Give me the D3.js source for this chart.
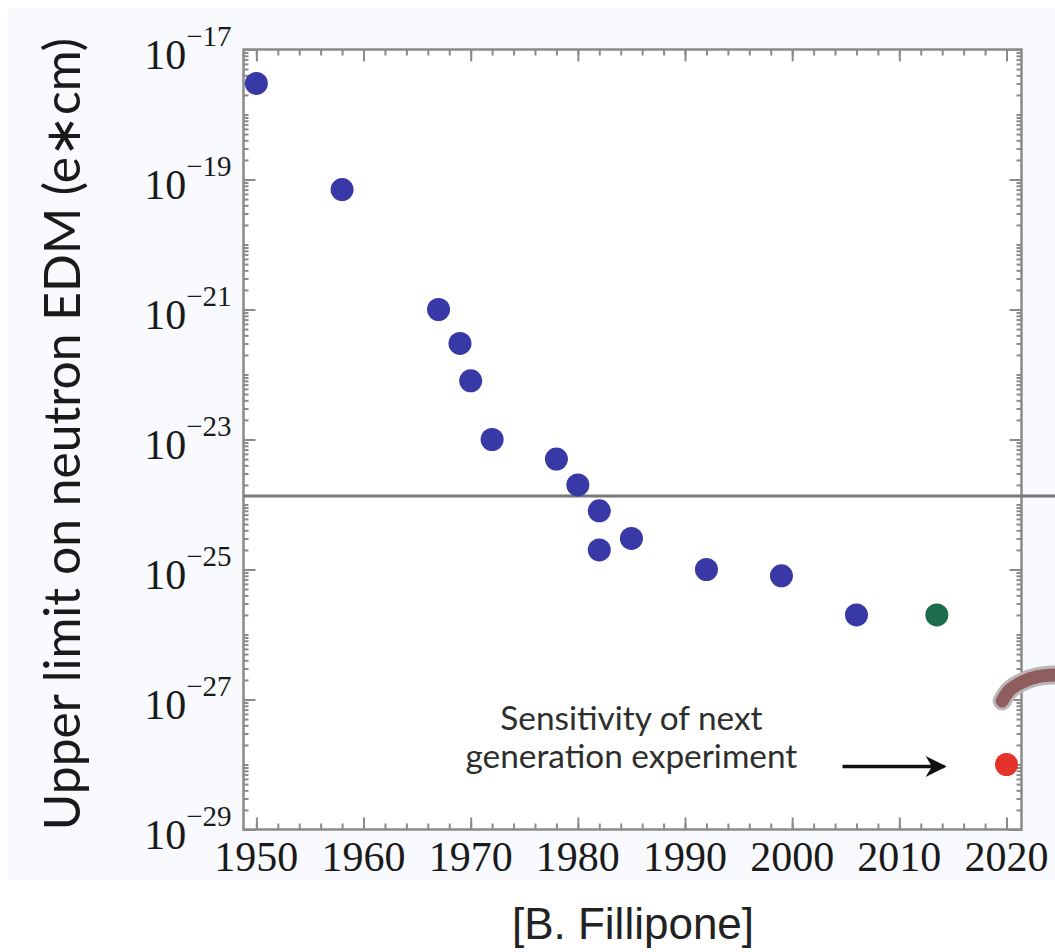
<!DOCTYPE html>
<html>
<head>
<meta charset="utf-8">
<script src="https://cdn.jsdelivr.net/npm/d3@7"></script>
<style>
  body { margin: 0; background: #fff; }
</style>
</head>
<body>
<svg id="chart"></svg>
<script>
const years = [1950, 1958, 1967, 1969, 1970, 1972, 1978, 1980, 1982, 1982, 1985, 1992, 1999, 2006]
const limits = [3e-18, 7e-20, 1e-21, 3e-22, 8e-23, 1e-23, 5e-24, 2e-24, 8e-25, 2e-25, 3e-25, 1e-25, 8e-26, 2e-26]

// The green point and the projected (red) sensitivity.
const greenYears = [2013.5]
const greenLimits = [2e-26]
const nextYears = [2020]
const nextLimits = [1e-28]

// Horizontal reference line.
const refLimit = 1.35e-24

// Brown arc that pokes in from the right edge.
const arcYears = [2019.6, 2020.3, 2021.45, 2022.9, 2024.8]
const arcLimits = [9.5e-28, 1.4e-27, 1.85e-27, 2.25e-27, 2.4e-27]

// Tick labels.
const xTickYears = [1950, 1960, 1970, 1980, 1990, 2000, 2010, 2020]
const yTickExponents = [-17, -19, -21, -23, -25, -27, -29]

const WIDTH = 1055
const HEIGHT = 952
const LEFT = 243.5
const RIGHT = 1021.5
const TOP = 49.5
const BOTTOM = 829.5

const svg = d3.select("#chart").attr("width", WIDTH).attr("height", HEIGHT)

const x = d3.scaleLinear().domain([1948.8, 2021.4]).range([LEFT, RIGHT])
const y = d3.scaleLog().domain([1e-29, 1e-17]).range([BOTTOM, TOP])

// faint slide panel behind everything
svg.append("rect")
  .attr("x", 8).attr("y", 8)
  .attr("width", WIDTH).attr("height", 872)
  .attr("fill", "#f9fafd")

svg.append("rect")
  .attr("x", LEFT).attr("y", TOP)
  .attr("width", RIGHT - LEFT).attr("height", BOTTOM - TOP)
  .attr("fill", "#fff")

// tick positions
const minorYears = d3.range(1950, 2021, 2)
const minorVals = []
for (let e = -29; e < -17; e++) {
  for (let k = 1; k <= 9; k++) minorVals.push(k * Math.pow(10, e))
}
minorVals.push(1e-17)
const majorVals = yTickExponents.map((e) => Math.pow(10, e))

function styleAxis(g) {
  g.select(".domain").remove()
  g.selectAll("line").attr("stroke", "#8a8a8a").attr("stroke-width", 2)
  g.selectAll("text").remove()
}

svg.append("g").attr("transform", `translate(0,${BOTTOM})`)
  .call(d3.axisBottom(x).tickValues(minorYears).tickSize(-6)).call(styleAxis)
svg.append("g").attr("transform", `translate(0,${BOTTOM})`)
  .call(d3.axisBottom(x).tickValues(xTickYears).tickSize(-12)).call(styleAxis)
svg.append("g").attr("transform", `translate(0,${TOP})`)
  .call(d3.axisTop(x).tickValues(minorYears).tickSize(-6)).call(styleAxis)
svg.append("g").attr("transform", `translate(0,${TOP})`)
  .call(d3.axisTop(x).tickValues(xTickYears).tickSize(-12)).call(styleAxis)

svg.append("g").attr("transform", `translate(${LEFT},0)`)
  .call(d3.axisLeft(y).tickValues(minorVals).tickSize(-5)).call(styleAxis)
svg.append("g").attr("transform", `translate(${LEFT},0)`)
  .call(d3.axisLeft(y).tickValues(majorVals).tickSize(-12)).call(styleAxis)
svg.append("g").attr("transform", `translate(${RIGHT},0)`)
  .call(d3.axisRight(y).tickValues(minorVals).tickSize(-5)).call(styleAxis)
svg.append("g").attr("transform", `translate(${RIGHT},0)`)
  .call(d3.axisRight(y).tickValues(majorVals).tickSize(-12)).call(styleAxis)

// frame
svg.append("rect")
  .attr("x", LEFT).attr("y", TOP)
  .attr("width", RIGHT - LEFT).attr("height", BOTTOM - TOP)
  .attr("fill", "none")
  .attr("stroke", "#8a8a8a")
  .attr("stroke-width", 2.5)

// x tick labels
svg.append("g").selectAll("text")
  .data(xTickYears)
  .join("text")
  .attr("x", (d) => x(d))
  .attr("y", BOTTOM + 41.5)
  .attr("text-anchor", "middle")
  .attr("font-family", "Liberation Serif, Times New Roman, serif")
  .attr("font-size", 42)
  .attr("fill", "#1a1a1a")
  .text((d) => d)

// y tick labels with superscript exponent
const yLabels = svg.append("g").selectAll("text")
  .data(yTickExponents)
  .join("text")
  .attr("x", LEFT - 12)
  .attr("y", (d) => y(Math.pow(10, d)) + 19.5)
  .attr("text-anchor", "end")
  .attr("font-family", "Liberation Serif, Times New Roman, serif")
  .attr("fill", "#1a1a1a")
yLabels.append("tspan").attr("font-size", 42).text("10")
yLabels.append("tspan").attr("font-size", 29).attr("dy", -23)
  .text((d) => "\u2212" + Math.abs(d))

// horizontal reference line, runs past the frame to the edge
svg.append("line")
  .attr("x1", LEFT).attr("x2", WIDTH)
  .attr("y1", y(refLimit)).attr("y2", y(refLimit))
  .attr("stroke", "#777")
  .attr("stroke-width", 3)

// brown arc with a fuzzy grey rim
const arcLine = d3.line()
  .x((d, i) => x(arcYears[i]))
  .y((d, i) => y(arcLimits[i]))
  .curve(d3.curveCatmullRom)
svg.append("path")
  .attr("d", arcLine(arcYears))
  .attr("fill", "none")
  .attr("stroke", "#bdb6b6")
  .attr("stroke-width", 19)
  .attr("stroke-linecap", "round")
  .attr("stroke-dasharray", "1.5 1")
svg.append("path")
  .attr("d", arcLine(arcYears))
  .attr("fill", "none")
  .attr("stroke", "#8e5e5e")
  .attr("stroke-width", 13)
  .attr("stroke-linecap", "round")

// data points
function dots(xs, ys, color) {
  svg.append("g").selectAll("circle")
    .data(xs)
    .join("circle")
    .attr("cx", (d) => x(d))
    .attr("cy", (d, i) => y(ys[i]))
    .attr("r", 11.5)
    .attr("fill", color)
}
dots(years, limits, "#3838a6")
dots(greenYears, greenLimits, "#1c6b4b")
dots(nextYears, nextLimits, "#e5322a")

// annotation
const redY = y(nextLimits[0])
const annoX = x(1985)
const anno = svg.append("g")
  .attr("font-family", "Lato, Noto Sans, sans-serif")
  .attr("fill", "#2e2e2e")
  .attr("text-anchor", "middle")
const line1 = anno.append("text").attr("x", annoX).attr("y", redY - 35).text("Sensitivity of next")
const line2 = anno.append("text").attr("x", annoX).attr("y", redY + 3.5).text("generation experiment")
line2.attr("font-size", 30)
const annoSize = 30 * 332 / line2.node().getComputedTextLength()
line1.attr("font-size", annoSize)
line2.attr("font-size", annoSize)

svg.append("defs").append("marker")
  .attr("id", "head")
  .attr("viewBox", "0 0 10 10")
  .attr("refX", 9).attr("refY", 5)
  .attr("markerWidth", 7).attr("markerHeight", 6)
  .attr("markerUnits", "strokeWidth")
  .attr("orient", "auto")
  .append("path")
  .attr("d", "M0,0 L10,5 L0,10 L3,5 Z")
  .attr("fill", "#111")
svg.append("line")
  .attr("x1", x(nextYears[0]) - 164).attr("x2", x(nextYears[0]) - 62)
  .attr("y1", redY + 2).attr("y2", redY + 2)
  .attr("stroke", "#111")
  .attr("stroke-width", 3.5)
  .attr("marker-end", "url(#head)")

// y axis title, sized to span the same length as in the picture
const title = svg.append("text")
  .attr("transform", `translate(80,434) rotate(-90)`)
  .attr("text-anchor", "middle")
  .attr("font-family", "Lato, Noto Sans, sans-serif")
  .attr("fill", "#1a1a1a")
  .attr("font-size", 48)
  .text("Upper limit on neutron EDM (e\u2217cm)")
title.attr("font-size", 48 * 792 / title.node().getComputedTextLength())

// credit
svg.append("text")
  .attr("x", 633).attr("y", 939)
  .attr("text-anchor", "middle")
  .attr("font-family", "Liberation Sans, Arial, sans-serif")
  .attr("font-size", 44)
  .attr("fill", "#222")
  .text("[B. Fillipone]")
</script>
</body>
</html>
